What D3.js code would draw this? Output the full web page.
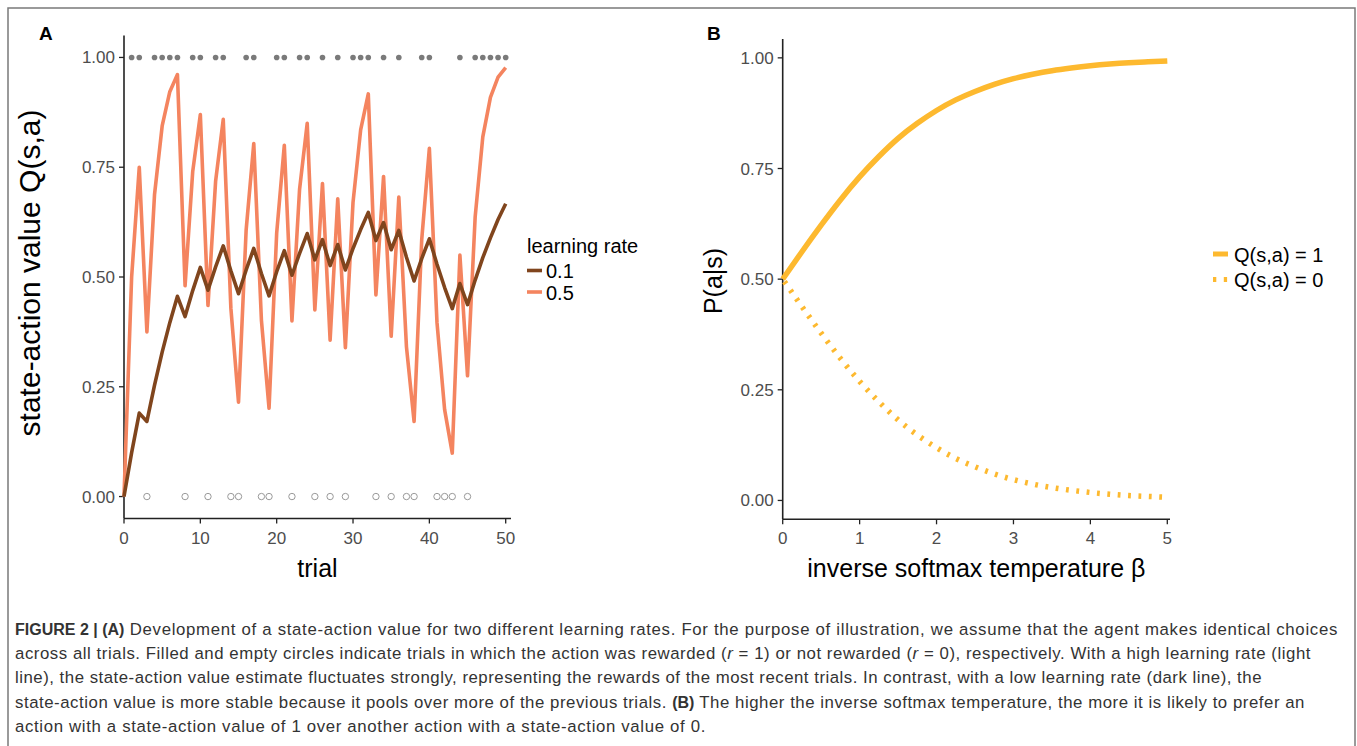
<!DOCTYPE html>
<html>
<head>
<meta charset="utf-8">
<script src="https://d3js.org/d3.v7.min.js"></script>
<style>
  body { margin: 0; background: #fff; }
  svg text { font-family: "Liberation Sans", Arial, Helvetica, sans-serif; }
</style>
</head>
<body>
<script>
// panel A: trials and the two learning curves
var trials = d3.range(0, 51);
var rewarded = [1,2,4,5,6,7,9,10,12,13,16,17,20,21,23,24,26,28,30,31,32,34,36,39,40,44,46,47,48,49,50];
var notRewarded = [3,8,11,14,15,18,19,22,25,27,29,33,35,37,38,41,42,43,45];
var qLow = [0,0.1,0.19,0.171,0.254,0.329,0.396,0.456,0.41,0.469,0.522,0.47,0.523,0.571,0.514,0.462,0.516,0.565,0.508,0.457,0.512,
  0.56,0.504,0.554,0.599,0.539,0.585,0.526,0.574,0.516,0.565,0.608,0.647,0.583,0.624,0.562,0.606,0.545,0.491,0.542,0.587,
  0.529,0.476,0.428,0.485,0.437,0.493,0.544,0.589,0.631,0.667];
var qHigh = [0,0.5,0.75,0.375,0.688,0.844,0.922,0.961,0.48,0.74,0.87,0.435,0.718,0.859,0.429,0.215,0.607,0.804,0.402,0.201,0.6,
  0.8,0.4,0.7,0.85,0.425,0.713,0.356,0.678,0.339,0.67,0.835,0.917,0.459,0.729,0.365,0.682,0.341,0.171,0.585,0.793,
  0.396,0.198,0.099,0.55,0.275,0.637,0.819,0.909,0.955,0.977];
var rateLabels = ["0.1", "0.5"];

// panel B: choice probability vs inverse temperature
var beta = [0,0.25,0.5,0.75,1,1.25,1.5,1.75,2,2.25,2.5,2.75,3,3.25,3.5,3.75,4,4.25,4.5,4.75,5];
var pQ1 = [0.5,0.562,0.622,0.679,0.731,0.777,0.818,0.852,0.881,0.905,0.924,0.94,0.953,0.963,0.971,0.977,0.982,0.986,0.989,0.991,0.993];
var pQ0 = [0.5,0.438,0.378,0.321,0.269,0.223,0.182,0.148,0.119,0.095,0.076,0.06,0.047,0.037,0.029,0.023,0.018,0.014,0.011,0.009,0.007];
var qLabels = ["Q(s,a) = 1", "Q(s,a) = 0"];

var yTicks = [0, 0.25, 0.5, 0.75, 1];

var width = 1357, height = 746;
var svg = d3.select("body").append("svg")
  .attr("width", width)
  .attr("height", height);

svg.append("rect").attr("width", width).attr("height", height).attr("fill", "#fff");

// frame round the figure
svg.append("rect")
  .attr("x", 8).attr("y", 8)
  .attr("width", 1347).attr("height", 760)
  .attr("fill", "none")
  .attr("stroke", "#7a7a7a")
  .attr("stroke-width", 1.5);

var ink = "#222", tickCol = "#4d4d4d";

function drawAxes(g, x, y, xTicks, xFmt, x0, x1, y0, y1) {
  g.append("line").attr("x1", x0).attr("x2", x0).attr("y1", y0).attr("y2", y1)
    .attr("stroke", ink).attr("stroke-width", 1.6);
  g.append("line").attr("x1", x0).attr("x2", x1).attr("y1", y1).attr("y2", y1)
    .attr("stroke", ink).attr("stroke-width", 1.6);
  yTicks.forEach(function(t) {
    g.append("line").attr("x1", x0 - 5).attr("x2", x0).attr("y1", y(t)).attr("y2", y(t))
      .attr("stroke", ink).attr("stroke-width", 1.3);
    g.append("text").attr("x", x0 - 9).attr("y", y(t) + 6)
      .attr("text-anchor", "end").attr("font-size", 17).attr("fill", tickCol)
      .text(d3.format(".2f")(t));
  });
  xTicks.forEach(function(t) {
    g.append("line").attr("x1", x(t)).attr("x2", x(t)).attr("y1", y1).attr("y2", y1 + 5)
      .attr("stroke", ink).attr("stroke-width", 1.3);
    g.append("text").attr("x", x(t)).attr("y", y1 + 25)
      .attr("text-anchor", "middle").attr("font-size", 17).attr("fill", tickCol)
      .text(xFmt(t));
  });
}

// ---------- panel A ----------
var gA = svg.append("g");
var xA = d3.scaleLinear().domain([0, 50]).range([124, 505.7]);
var yA = d3.scaleLinear().domain([-0.05, 1.05]).range([518.5, 35.5]);

drawAxes(gA, xA, yA, [0, 10, 20, 30, 40, 50], d3.format("d"), 124, 511, 35.5, 518.5);

gA.selectAll("circle.rew").data(rewarded).enter().append("circle")
  .attr("cx", function(d) { return xA(d); })
  .attr("cy", yA(1))
  .attr("r", 2.8)
  .attr("fill", "#7a7a7a");

gA.selectAll("circle.norew").data(notRewarded).enter().append("circle")
  .attr("cx", function(d) { return xA(d); })
  .attr("cy", yA(0))
  .attr("r", 3.2)
  .attr("fill", "none")
  .attr("stroke", "#999")
  .attr("stroke-width", 1);

var lineA = d3.line()
  .x(function(d, i) { return xA(trials[i]); })
  .y(function(d) { return yA(d); });

var colHigh = "#f4845f", colLow = "#80451d";

gA.append("path").attr("d", lineA(qHigh))
  .attr("fill", "none").attr("stroke", colHigh).attr("stroke-width", 3.6)
  .attr("stroke-linejoin", "round");
gA.append("path").attr("d", lineA(qLow))
  .attr("fill", "none").attr("stroke", colLow).attr("stroke-width", 3.6)
  .attr("stroke-linejoin", "round");

gA.append("text").attr("x", 39).attr("y", 40)
  .attr("font-size", 19).attr("font-weight", "bold").attr("fill", "#000").text("A");

gA.append("text").attr("x", (124 + 511) / 2).attr("y", 577)
  .attr("text-anchor", "middle").attr("font-size", 25).attr("fill", "#000").text("trial");

gA.append("text")
  .attr("transform", "translate(40," + 273 + ") rotate(-90)")
  .attr("text-anchor", "middle").attr("font-size", 30).attr("fill", "#000")
  .text("state-action value Q(s,a)");

// legend A
gA.append("text").attr("x", 527).attr("y", 253)
  .attr("font-size", 20).attr("fill", "#000").text("learning rate");
[colLow, colHigh].forEach(function(c, i) {
  var ky = 270.5 + i * 21.5;
  gA.append("line").attr("x1", 527).attr("x2", 542).attr("y1", ky).attr("y2", ky)
    .attr("stroke", c).attr("stroke-width", 3.6);
  gA.append("text").attr("x", 546).attr("y", ky + 7.5)
    .attr("font-size", 20).attr("fill", "#000").text(rateLabels[i]);
});

// ---------- panel B ----------
var gB = svg.append("g");
var xB = d3.scaleLinear().domain([0, 5]).range([782.7, 1167.3]);
var yB = d3.scaleLinear().domain([-0.0426, 1.0426]).range([519.3, 39]);

drawAxes(gB, xB, yB, [0, 1, 2, 3, 4, 5], d3.format("d"), 782.7, 1170, 39, 519.3);

var lineB = d3.line()
  .x(function(d, i) { return xB(beta[i]); })
  .y(function(d) { return yB(d); })
  .curve(d3.curveNatural);

var colB = "#fdb92f";

gB.append("path").attr("d", lineB(pQ1))
  .attr("fill", "none").attr("stroke", colB).attr("stroke-width", 5.5);
gB.append("path").attr("d", lineB(pQ0))
  .attr("fill", "none").attr("stroke", colB).attr("stroke-width", 5.5)
  .attr("stroke-dasharray", "2.8,7.6")
  .attr("stroke-dashoffset", -3);

gB.append("text").attr("x", 707).attr("y", 40)
  .attr("font-size", 19).attr("font-weight", "bold").attr("fill", "#000").text("B");

gB.append("text").attr("x", (782.7 + 1170) / 2).attr("y", 577)
  .attr("text-anchor", "middle").attr("font-size", 25).attr("fill", "#000")
  .text("inverse softmax temperature \u03b2");

gB.append("text")
  .attr("transform", "translate(722," + 281 + ") rotate(-90)")
  .attr("text-anchor", "middle").attr("font-size", 25).attr("fill", "#000")
  .text("P(a|s)");

// legend B
qLabels.forEach(function(lab, i) {
  var ky = 254 + i * 25.5;
  var key = gB.append("line").attr("x1", 1213).attr("x2", 1228).attr("y1", ky).attr("y2", ky)
    .attr("stroke", colB).attr("stroke-width", 5);
  if (i == 1) key.attr("stroke-dasharray", "3.3,7.5");
  gB.append("text").attr("x", 1234).attr("y", ky + 7.5)
    .attr("font-size", 20).attr("fill", "#000").text(lab);
});

// ---------- caption ----------
var capLines = [
  [["b", "FIGURE 2 | (A)"], ["n", " Development of a state-action value for two different learning rates. For the purpose of illustration, we assume that the agent makes identical choices"]],
  [["n", "across all trials. Filled and empty circles indicate trials in which the action was rewarded ("], ["i", "r"], ["n", " = 1) or not rewarded ("], ["i", "r"], ["n", " = 0), respectively. With a high learning rate (light"]],
  [["n", "line), the state-action value estimate fluctuates strongly, representing the rewards of the most recent trials. In contrast, with a low learning rate (dark line), the"]],
  [["n", "state-action value is more stable because it pools over more of the previous trials. "], ["b", "(B)"], ["n", " The higher the inverse softmax temperature, the more it is likely to prefer an"]],
  [["n", "action with a state-action value of 1 over another action with a state-action value of 0."]]
];
var capEnds = [1338, 1311, 1262, 1305, 706];

capLines.forEach(function(parts, i) {
  var t = svg.append("text")
    .attr("x", 15).attr("y", 635 + i * 24.2)
    .attr("fill", "#333");
  var plain = [];
  parts.forEach(function(p) {
    var ts = t.append("tspan").text(p[1]).attr("font-size", p[0] == "b" ? 16 : 16.8);
    if (p[0] == "b") ts.attr("font-weight", "bold");
    else plain.push(ts);
    if (p[0] == "i") ts.attr("font-style", "italic");
  });
  // spread the plain letters so each line ends where the printed one does
  var w = t.node().getComputedTextLength();
  var n = d3.sum(plain, function(ts) { return ts.text().length; });
  var ls = (capEnds[i] - 15 - w) / n;
  plain.forEach(function(ts) { ts.style("letter-spacing", ls + "px"); });
});
</script>
</body>
</html>
